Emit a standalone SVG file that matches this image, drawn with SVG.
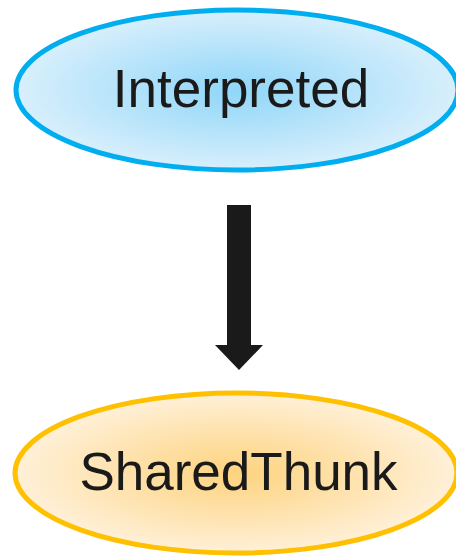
<svg xmlns="http://www.w3.org/2000/svg" width="456" height="558" viewBox="0 0 456 558">
  <defs>
    <radialGradient id="gBlue" cx="50%" cy="50%" r="50%">
      <stop offset="0" stop-color="#8FD6F8"/>
      <stop offset="1" stop-color="#D8EFFC"/>
    </radialGradient>
    <radialGradient id="gOrange" cx="50%" cy="50%" r="50%">
      <stop offset="0" stop-color="#FDD37E"/>
      <stop offset="1" stop-color="#FFF0D8"/>
    </radialGradient>
  </defs>
  <style>
    .label { font-family: "Liberation Sans", Arial, sans-serif; font-size: 53px; fill: #1a1a1a; text-anchor: middle; }
  </style>
  <rect width="456" height="558" fill="#ffffff"/>
  <g id="interpreted">
    <ellipse cx="237" cy="90" rx="221" ry="80" fill="url(#gBlue)" stroke="#00AEEF" stroke-width="5"/>
    <text class="label" x="241" y="107">Interpreted</text>
  </g>
  <g id="connectors">
    <polygon points="227,205 251,205 251,345 263,345 239,370 215,345 227,345" fill="#1a1a1a"/>
  </g>
  <g id="sharedthunk">
    <ellipse cx="236" cy="473" rx="221" ry="80" fill="url(#gOrange)" stroke="#FFC000" stroke-width="5"/>
    <text class="label" x="238.5" y="490">SharedThunk</text>
  </g>
</svg>
